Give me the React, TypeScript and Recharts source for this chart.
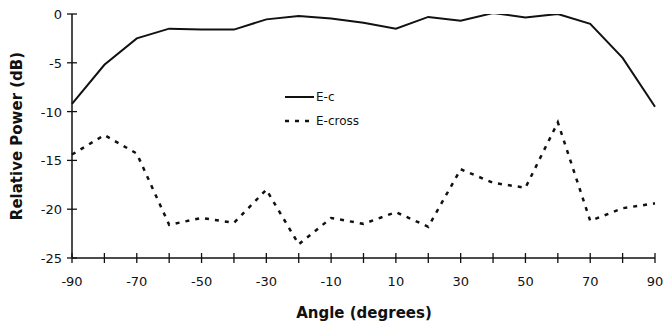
import React from 'react';
import { LineChart, Line, XAxis, YAxis } from 'recharts';

const angles = [-90, -80, -70, -60, -50, -40, -30, -20, -10, 0, 10, 20, 30, 40, 50, 60, 70, 80, 90];
const eCo = [-9.2, -5.2, -2.5, -1.5, -1.6, -1.6, -0.55, -0.2, -0.45, -0.9, -1.5, -0.3, -0.7, 0.1, -0.35, 0, -1.0, -4.5, -9.5];
const eCross = [-14.4, -12.4, -14.3, -21.6, -20.9, -21.4, -18.0, -23.6, -20.9, -21.5, -20.3, -21.8, -15.9, -17.3, -17.8, -11.1, -21.2, -19.9, -19.4];

const xTicks = angles;
const xLabels = [-90, -70, -50, -30, -10, 10, 30, 50, 70, 90];
const yTicks = [-25, -20, -15, -10, -5, 0];

const data = angles.map((a, i) => ({ angle: a, ec: eCo[i], ecross: eCross[i] }));

const INK = '#111';
const FONT = '"DejaVu Sans", sans-serif';

const XTick = (props: any) => {
  const { x, y, payload } = props;
  const show = xLabels.includes(payload.value);
  return (
    <g>
      <line x1={x} x2={x} y1={y - 5} y2={y + 5} stroke={INK} strokeWidth={1.3} />
      {show && (
        <text x={x} y={y + 28} textAnchor="middle" fontSize={13} fontFamily={FONT} fill={INK}>
          {payload.value}
        </text>
      )}
    </g>
  );
};

const YTick = (props: any) => {
  const { x, y, payload } = props;
  return (
    <g>
      <line x1={x - 5} x2={x + 5} y1={y} y2={y} stroke={INK} strokeWidth={1.3} />
      <text x={x - 10} y={y + 5} textAnchor="end" fontSize={13} fontFamily={FONT} fill={INK}>
        {payload.value}
      </text>
    </g>
  );
};

// axis title plus the little legend box in the middle of the plot
const XTitle = () => (
  <g>
    <text x={364} y={318} textAnchor="middle" fontSize={15} fontWeight="bold" fontFamily={FONT} fill={INK}>
      Angle (degrees)
    </text>
    <line x1={285} x2={314} y1={97} y2={97} stroke={INK} strokeWidth={2} />
    <text x={316} y={101} fontSize={12} fontFamily={FONT} fill={INK}>E-c</text>
    <line x1={285} x2={314} y1={121} y2={121} stroke={INK} strokeWidth={2.5} strokeDasharray="4 6" />
    <text x={316} y={125} fontSize={12} fontFamily={FONT} fill={INK}>E-cross</text>
  </g>
);

export default function App() {
  return (
    <div style={{ position: 'absolute', left: 0, top: 0, background: '#fff' }}>
      <LineChart width={672} height={325} data={data} margin={{ top: 14, right: 17, left: 12, bottom: 37 }}>
        <XAxis
          dataKey="angle"
          type="number"
          domain={[-90, 90]}
          ticks={xTicks}
          interval={0}
          tickSize={0}
          tickMargin={0}
          tickLine={false}
          tick={<XTick />}
          axisLine={{ stroke: INK, strokeWidth: 1.5 }}
          height={30}
          label={{ content: () => <XTitle /> }}
        />
        <YAxis
          type="number"
          domain={[-25, 0]}
          ticks={yTicks}
          interval={0}
          allowDataOverflow
          tickSize={0}
          tickMargin={0}
          tickLine={false}
          tick={<YTick />}
          axisLine={{ stroke: INK, strokeWidth: 1.5 }}
          width={60}
          label={{
            content: () => (
              <text
                x={22}
                y={136}
                textAnchor="middle"
                fontSize={15}
                fontWeight="bold"
                fontFamily={FONT}
                fill={INK}
                transform="rotate(-90 22 136)"
              >
                Relative Power (dB)
              </text>
            ),
          }}
        />
        <Line dataKey="ec" name="E-c" stroke={INK} strokeWidth={2} dot={false} isAnimationActive={false} />
        <Line
          dataKey="ecross"
          name="E-cross"
          stroke={INK}
          strokeWidth={2.5}
          strokeDasharray="4 6"
          dot={false}
          isAnimationActive={false}
        />
      </LineChart>
    </div>
  );
}
